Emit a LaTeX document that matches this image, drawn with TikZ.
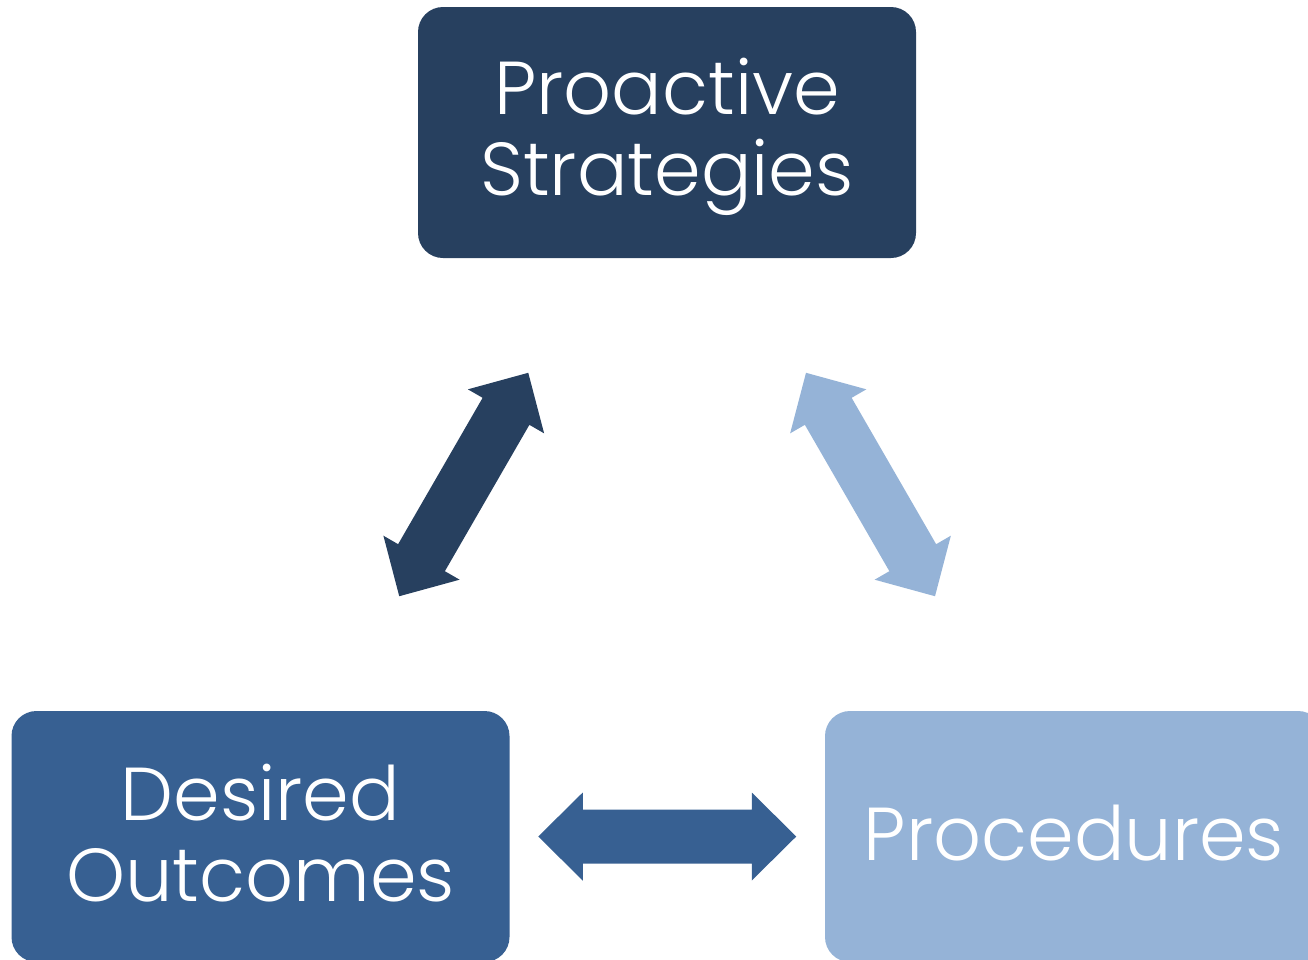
\documentclass[tikz,border=0pt]{standalone}
\usepackage{fontspec}
\setmainfont{Poppins}[UprightFont=* Light]
\usetikzlibrary{calc}
\definecolor{navy}{HTML}{27405F}
\definecolor{midblue}{HTML}{376092}
\definecolor{paleblue}{HTML}{95B3D7}
\newcommand{\tstrut}{\rule[-16.5pt]{0pt}{81pt}}
\tikzset{
  box/.style={rectangle,rounded corners=25pt,minimum width=498pt,minimum height=251pt,
    inner sep=0pt,text=white,align=center,font=\fontsize{75}{81}\selectfont},
  dblarrow/.pic={
    \fill (-129,0)--(-84.5,-44)--(-84.5,-27)--(84.5,-27)--(84.5,-44)--(129,0)
      --(84.5,44)--(84.5,27)--(-84.5,27)--(-84.5,44)--cycle;
  }
}

\begin{document}
\begin{tikzpicture}[x=1pt,y=-1pt,line join=miter]
    \useasboundingbox (0,0) rectangle (1308,959);
    \clip (0,0) rectangle (1308,959);

    % The three boxes
    \node[box,fill=navy] (strat) at (667,132.5) {Proactive\tstrut\\Strategies\tstrut};
    \node[box,fill=midblue] (desired) at (260.5,836.5) {Desired\tstrut\\Outcomes\tstrut};
    \node[box,fill=paleblue] (proc) at (1074,836.5) {Procedures\tstrut};

    % Double arrows half way between the boxes
    \pic[color=navy,rotate=60] at ($(strat)!.5!(desired)$) {dblarrow};
    \pic[color=paleblue,rotate=-60] at ($(strat)!.5!(proc)$) {dblarrow};
    \pic[color=midblue] at ($(desired)!.5!(proc)$) {dblarrow};
\end{tikzpicture}
\end{document}
